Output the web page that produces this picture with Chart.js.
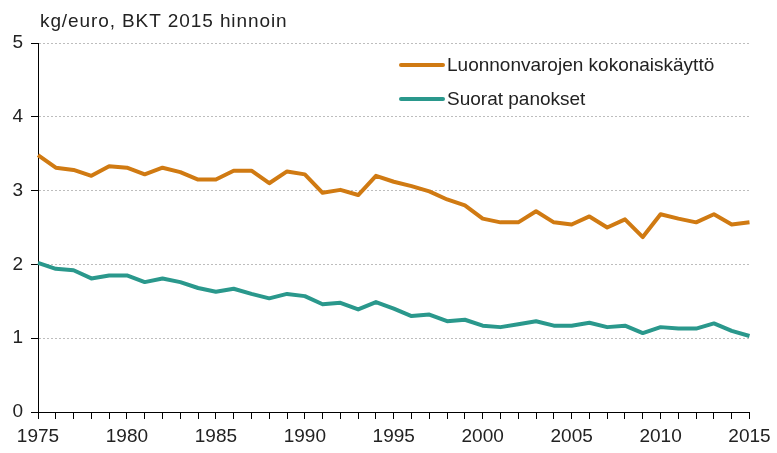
<!DOCTYPE html>
<html>
<head>
<meta charset="utf-8">
<script src="https://cdn.jsdelivr.net/npm/chart.js@4/dist/chart.umd.min.js"></script>
<style>
  body { margin: 0; background: #fff; }
  #box { width: 777px; height: 453px; }
</style>
</head>
<body>
<div id="box"><canvas id="dataChart" width="777" height="453"></canvas></div>
<script>
// years on the x axis
const years = [];
for (let y = 1975; y <= 2015; y++) years.push(y);

// kg/euro values
const kokonaisKaytto = [3.48, 3.31, 3.28, 3.20, 3.33, 3.31, 3.22, 3.31, 3.25, 3.15,
    3.15, 3.27, 3.27, 3.10, 3.26, 3.22, 2.97, 3.01, 2.94, 3.20,
    3.12, 3.06, 2.99, 2.88, 2.80, 2.62, 2.57, 2.57, 2.72, 2.57,
    2.54, 2.65, 2.50, 2.61, 2.37, 2.68, 2.62, 2.57, 2.68, 2.54, 2.57];

const suoratPanokset = [2.02, 1.94, 1.92, 1.81, 1.85, 1.85, 1.76, 1.81, 1.76, 1.68,
    1.63, 1.67, 1.60, 1.54, 1.60, 1.57, 1.46, 1.48, 1.39, 1.49,
    1.40, 1.30, 1.32, 1.23, 1.25, 1.17, 1.15, 1.19, 1.23, 1.17,
    1.17, 1.21, 1.15, 1.17, 1.07, 1.15, 1.13, 1.13, 1.20, 1.10, 1.03];

const seriesNames = ['Luonnonvarojen kokonaiskäyttö', 'Suorat panokset'];
const yTicks = [0, 1, 2, 3, 4, 5];
const unitTitle = 'kg/euro, BKT 2015 hinnoin';

const FONT = '"Liberation Sans", Arial, sans-serif';
const TEXT = '#222';

// unit title + legend, drawn on the canvas
const extras = {
    id: 'extras',
    afterDraw(chart) {
        const ctx = chart.ctx;
        const area = chart.chartArea;
        ctx.save();
        ctx.font = '19px ' + FONT;
        ctx.fillStyle = TEXT;
        ctx.textBaseline = 'middle';
        ctx.letterSpacing = '0.9px';
        ctx.fillText(unitTitle, area.left + 2, 22);
        ctx.letterSpacing = '0px';

        chart.data.datasets.forEach((ds, i) => {
            const y = 65 + i * 34;
            ctx.strokeStyle = ds.borderColor;
            ctx.lineWidth = 4;
            ctx.lineCap = 'round';
            ctx.beginPath();
            ctx.moveTo(401, y);
            ctx.lineTo(443, y);
            ctx.stroke();
            ctx.fillStyle = TEXT;
            ctx.fillText(ds.label, 447, y + 1);
        });
        ctx.restore();
    }
};

const ctx = document.getElementById('dataChart').getContext('2d');
new Chart(ctx, {
    type: 'line',
    data: {
        labels: years,
        datasets: [{
            label: seriesNames[0],
            data: kokonaisKaytto,
            borderColor: '#d07a12',
            borderWidth: 4,
            borderJoinStyle: 'round',
            pointRadius: 0,
            tension: 0,
        }, {
            label: seriesNames[1],
            data: suoratPanokset,
            borderColor: '#2a988c',
            borderWidth: 4,
            borderJoinStyle: 'round',
            pointRadius: 0,
            tension: 0,
        }]
    },
    options: {
        responsive: false,
        animation: false,
        devicePixelRatio: 1,
        layout: { padding: { top: 43, right: 27.5, left: 0, bottom: 0 } },
        plugins: {
            legend: { display: false },
            tooltip: { enabled: false },
        },
        scales: {
            x: {
                offset: false,
                afterFit: s => { s.height = 41; },
                grid: { drawOnChartArea: false, tickColor: '#000', tickLength: 7 },
                border: { color: '#000', width: 1 },
                ticks: {
                    autoSkip: false,
                    maxRotation: 0,
                    padding: 6,
                    color: TEXT,
                    font: { family: FONT, size: 19 },
                    callback: (v, i) => years[i] % 5 === 0 ? String(years[i]) : '',
                }
            },
            y: {
                min: 0,
                max: 5,
                afterFit: s => { s.width = 38; },
                afterBuildTicks: s => { s.ticks = yTicks.map(v => ({ value: v })); },
                grid: { color: '#bdbdbd', tickColor: '#000', tickLength: 7 },
                border: { color: '#000', width: 1, dash: [2, 2] },
                ticks: {
                    padding: 8,
                    color: TEXT,
                    font: { family: FONT, size: 19 },
                }
            }
        }
    },
    plugins: [extras]
});
</script>
</body>
</html>
